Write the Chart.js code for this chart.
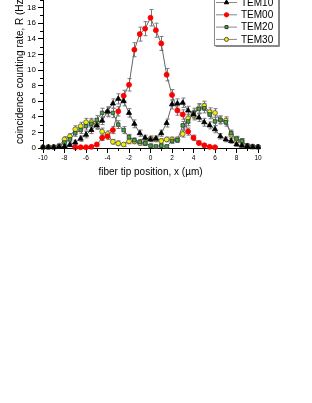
<!DOCTYPE html>
<html>
<head>
<meta charset="utf-8">
<script src="https://cdn.jsdelivr.net/npm/chart.js@4.4.0/dist/chart.umd.min.js"></script>
<style>
  html, body { margin: 0; padding: 0; background: #fff; width: 312px; height: 403px; overflow: hidden; }
  #wrap { position: absolute; left: 0; top: -20px; width: 312px; height: 220px; }
</style>
</head>
<body>
<div id="wrap"><canvas id="chart" width="312" height="220"></canvas></div>
<script>
// fiber tip positions (um)
const xs = [-10,-9.5,-9,-8.5,-8,-7.5,-7,-6.5,-6,-5.5,-5,-4.5,-4,-3.5,-3,-2.5,-2,-1.5,-1,-0.5,
  0,0.5,1,1.5,2,2.5,3,3.5,4,4.5,5,5.5,6,6.5,7,7.5,8,8.5,9,9.5,10];

// coincidence counting rate R (Hz)
const tem10 = [0.1,0.1,0.1,0.15,0.2,0.4,0.7,1.2,1.7,2.3, 2.9,3.5,4.7,5.7,6.3,6.0,4.5,3.1,1.9,1.3,
  1.1, 1.2,1.9,3.2,5.6,5.7,5.8,4.8,4.3,3.9,3.3, 2.9,2.4,1.5,1.1,0.9,0.45,0.3,0.2,0.1,0.1];
const tem00 = [null,null,null,null,null,null,0.1,0.1,0.1,0.15, 0.45,1.3,1.5,2.3,4.7,6.7,8.1,12.6,14.6,15.3,
  16.7, 15.1,13.4,9.4,6.8,4.8,4.3,2.1,1.3,0.65,0.35, 0.15,0.1,null,null,null,null,null,null,null,null];
const tem20 = [0.1,0.1,0.1,0.2,0.7,1.1,1.9,2.3,2.8,3.1, 3.6,4.5,4.6,4.5,3.0,2.3,1.4,1.0,0.8,0.6,
  0.3, 0.2,0.3,0.2,0.9,1.0,2.9,3.4,4.5,5.0,5.1, 4.3,3.4,3.6,3.3,1.9,1.2,0.9,0.3,0.2,0.15];
const tem30 = [0.1,0.15,0.15,0.3,1.1,1.5,2.4,2.8,3.3,3.3, 3.0,2.1,1.8,0.8,0.6,0.45,0.85,0.85,0.65,0.65,
  1.2, 1.1,0.9,1.1,1.1,1.1,1.8,3.8,4.2,5.1,5.4, 4.6,4.5,3.6,3.5,1.7,1.0,0.9,0.3,0.2,0.15];

// error bars (+/- Hz)
const err10 = [0.1,0.1,0.1,0.1,0.15,0.2,0.3,0.35,0.4,0.45, 0.5,0.5,0.6,0.6,0.65,0.6,0.55,0.5,0.4,0.35,
  0.3, 0.35,0.4,0.5,0.6,0.6,0.6,0.55,0.55,0.5,0.5, 0.45,0.45,0.35,0.3,0.3,0.2,0.15,0.1,0.1,0.1];
const err00 = [null,null,null,null,null,null,0.1,0.1,0.1,0.15, 0.2,0.35,0.4,0.45,0.6,0.7,0.8,0.9,0.9,0.9,
  1.05, 0.9,0.9,0.8,0.7,0.6,0.6,0.45,0.35,0.25,0.2, 0.15,0.1,null,null,null,null,null,null,null,null];
const err20 = [0.1,0.1,0.1,0.15,0.3,0.35,0.4,0.45,0.5,0.5, 0.55,0.6,0.6,0.6,0.5,0.45,0.35,0.3,0.3,0.25,
  0.2, 0.15,0.2,0.15,0.3,0.3,0.5,0.55,0.6,0.6,0.6, 0.55,0.5,0.5,0.5,0.4,0.3,0.3,0.2,0.1,0.1];
const err30 = [0.1,0.1,0.1,0.15,0.35,0.35,0.45,0.5,0.5,0.5, 0.5,0.45,0.4,0.3,0.3,0.25,0.3,0.3,0.3,0.3,
  0.35, 0.3,0.3,0.3,0.3,0.3,0.4,0.55,0.6,0.6,0.6, 0.55,0.55,0.5,0.5,0.4,0.3,0.3,0.2,0.1,0.1];

const xTicks = [-10,-8,-6,-4,-2,0,2,4,6,8,10];
const yTicks = [0,2,4,6,8,10,12,14,16,18,20];

const FONT = "'Liberation Sans', Arial, sans-serif";

function pts(vals) {
  return xs.map((x, i) => ({ x, y: vals[i] }));
}

function series(label, vals, errs, style) {
  return Object.assign({
    label,
    data: pts(vals),
    err: errs,
    borderColor: '#666',
    borderWidth: 1,
    showLine: true,
    spanGaps: false,
    clip: false,
    pointBorderWidth: 0.8,
    tension: 0
  }, style);
}

const datasets = [
  series('TEM10', tem10, err10, { pointStyle: 'triangle', pointRadius: 3, pointBackgroundColor: '#000', pointBorderColor: '#000' }),
  series('TEM00', tem00, err00, { pointStyle: 'circle', pointRadius: 2.5, pointBackgroundColor: '#ff0000', pointBorderColor: '#ff0000' }),
  series('TEM20', tem20, err20, { pointStyle: 'rect', pointRadius: 2.5, pointBackgroundColor: '#3fa83f', pointBorderColor: '#333' }),
  series('TEM30', tem30, err30, { pointStyle: 'circle', pointRadius: 2.4, pointBackgroundColor: '#f2f000', pointBorderColor: '#555' })
];

// error bars, minor ticks and the boxed legend
const extras = {
  id: 'extras',
  beforeDatasetsDraw(chart) {
    const { ctx, scales: { x, y } } = chart;
    ctx.save();
    ctx.strokeStyle = '#7a7a7a';
    ctx.lineWidth = 1;
    chart.data.datasets.forEach(ds => {
      ds.err.forEach((e, i) => {
        const v = ds.data[i].y;
        if (v == null || e == null) return;
        const px = Math.round(x.getPixelForValue(ds.data[i].x)) + 0.5;
        const t = y.getPixelForValue(v + e);
        const b = y.getPixelForValue(v - e);
        ctx.beginPath();
        ctx.moveTo(px, t); ctx.lineTo(px, b);
        ctx.moveTo(px - 2, t); ctx.lineTo(px + 2, t);
        ctx.moveTo(px - 2, b); ctx.lineTo(px + 2, b);
        ctx.stroke();
      });
    });
    ctx.restore();
  },
  afterDraw(chart) {
    const { ctx, chartArea: a, scales: { x, y } } = chart;
    ctx.save();
    ctx.strokeStyle = '#000';
    ctx.lineWidth = 1;
    ctx.beginPath();
    for (let v = -9; v <= 9; v += 2) {
      const px = Math.round(x.getPixelForValue(v)) + 0.5;
      ctx.moveTo(px, a.bottom); ctx.lineTo(px, a.bottom + 3);
    }
    for (let v = 1; v <= 19; v += 2) {
      const py = Math.round(y.getPixelForValue(v)) + 0.5;
      ctx.moveTo(a.left - 3, py); ctx.lineTo(a.left, py);
    }
    ctx.stroke();

    // legend box
    const bx = 214.5, by = 10.5, bw = 64, bh = 55;
    ctx.fillStyle = '#fff';
    ctx.fillRect(bx, by, bw, bh);
    ctx.strokeStyle = '#888';
    ctx.strokeRect(bx, by, bw, bh);
    ctx.beginPath();
    ctx.moveTo(bx + 1, by + bh + 1); ctx.lineTo(bx + bw + 1, by + bh + 1); ctx.lineTo(bx + bw + 1, by + 1);
    ctx.stroke();

    ctx.font = '10px ' + FONT;
    ctx.textBaseline = 'middle';
    chart.data.datasets.forEach((ds, i) => {
      const ry = 22.5 + i * 12.3;
      ctx.strokeStyle = '#888';
      ctx.beginPath();
      ctx.moveTo(216, ry); ctx.lineTo(237, ry);
      ctx.stroke();
      ctx.fillStyle = ds.pointBackgroundColor;
      ctx.strokeStyle = ds.pointBorderColor;
      Chart.helpers.drawPoint(ctx, {
        pointStyle: ds.pointStyle, radius: ds.pointRadius * 0.85, rotation: 0, borderWidth: 0.8
      }, 226.5, ry);
      ctx.fillStyle = '#000';
      ctx.fillText(ds.label, 241, ry + 0.5);
    });
    ctx.restore();
  }
};

new Chart(document.getElementById('chart'), {
  type: 'line',
  data: { datasets },
  plugins: [extras],
  options: {
    responsive: false,
    animation: false,
    devicePixelRatio: 1,
    layout: { padding: { left: 0, right: 54, top: 12, bottom: 0 } },
    plugins: { legend: { display: false }, tooltip: { enabled: false } },
    scales: {
      x: {
        type: 'linear',
        min: -10, max: 10,
        afterBuildTicks: s => { s.ticks = xTicks.map(v => ({ value: v })); },
        afterFit: s => { s.height = 52; },
        border: { display: true, color: '#000', width: 1 },
        grid: { drawOnChartArea: false, drawTicks: true, tickLength: 5, color: '#000' },
        ticks: { color: '#000', font: { family: FONT, size: 6.5 }, padding: 1, maxRotation: 0 },
        title: { display: true, text: 'fiber tip position, x (\u00b5m)', color: '#000',
          font: { family: FONT, size: 10 }, padding: { top: 0, bottom: 22 } }
      },
      y: {
        min: 0, max: 20,
        afterBuildTicks: s => { s.ticks = yTicks.map(v => ({ value: v })); },
        afterFit: s => { s.width = 43; },
        border: { display: true, color: '#000', width: 1 },
        grid: { drawOnChartArea: false, drawTicks: true, tickLength: 5, color: '#000' },
        ticks: { color: '#000', font: { family: FONT, size: 8 }, padding: 2 },
        title: { display: true, text: 'coincidence counting rate, R (Hz)', color: '#000',
          font: { family: FONT, size: 10 }, padding: { top: 14, bottom: 0 } }
      }
    }
  }
});
</script>
</body>
</html>
